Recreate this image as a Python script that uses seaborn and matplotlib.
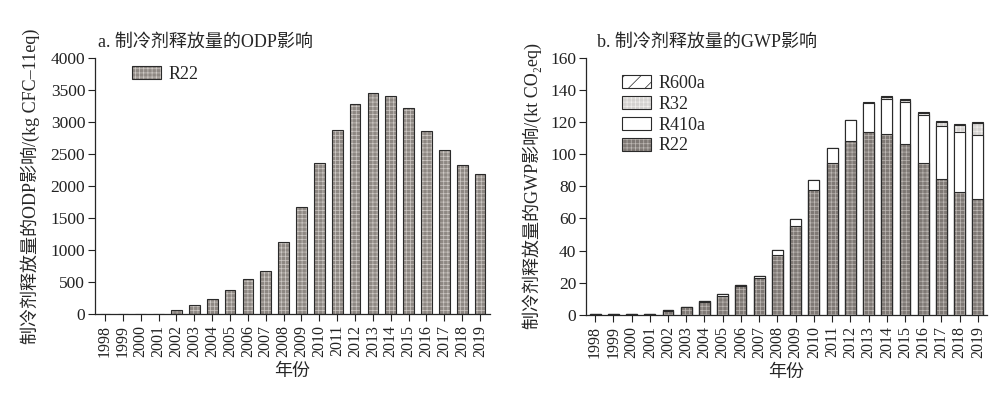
import numpy as np
import pandas as pd
import seaborn as sns
import matplotlib.pyplot as plt

years = [str(y) for y in range(1998, 2020)]

# a. ODP impact, kg CFC-11eq
odp_r22 = [2, 2, 5, 5, 67, 136, 234, 375, 542, 677, 1120, 1677,
           2355, 2870, 3281, 3448, 3406, 3224, 2860, 2558, 2328, 2188]

# b. GWP impact, kt CO2eq
gwp_r22 = [0.2, 0.2, 0.3, 0.3, 2.6, 5.0, 8.2, 11.8, 18.0, 22.9, 37.4, 55.5,
           77.5, 94.6, 108.4, 114.0, 112.5, 106.1, 94.7, 84.8, 76.6, 72.2]
gwp_r410a = [0, 0, 0, 0, 0.1, 0.1, 0.2, 1.2, 0.5, 1.5, 2.7, 3.9,
             6.5, 9.4, 12.9, 17.6, 22.0, 26.3, 29.7, 32.6, 37.4, 39.9]
gwp_r32 = [0] * 15 + [0.3, 1.0, 1.5, 1.5, 2.9, 4.5, 7.3]
gwp_r600a = [0] * 15 + [0.5, 0.5, 0.6, 0.5, 0.5, 0.5, 0.5]

sns.set_style('ticks')
plt.rcParams['font.family'] = ['Liberation Serif', 'Noto Sans CJK SC', 'DejaVu Serif']
plt.rcParams['hatch.linewidth'] = 0.5
plt.rcParams['axes.linewidth'] = 0.9

fs = 13


def style_bars(container, face, hatch, hatch_color, edge='#2a2a2a'):
    for p in container:
        p.set_facecolor(face)
        p.set_edgecolor(edge)
        p.set_linewidth(0.8)
        p.set_hatch(hatch)
        p._hatch_color = plt.matplotlib.colors.to_rgba(hatch_color)


def style_axes(ax):
    sns.despine(ax=ax)
    ax.tick_params(axis='both', direction='out', length=5, width=0.8, colors='#222222')
    ax.tick_params(axis='y', labelsize=12.5, pad=2)
    ax.tick_params(axis='x', labelsize=11.5, labelrotation=90, pad=3)
    ax.set_xlabel('年份', fontsize=fs, labelpad=4)


fig = plt.figure(figsize=(10, 3.99), dpi=100)
ax1 = fig.add_axes([0.095, 0.213, 0.395, 0.642])
ax2 = fig.add_axes([0.586, 0.211, 0.401, 0.644])

# panel a
df_a = pd.DataFrame({'year': years, 'R22': odp_r22})
sns.barplot(data=df_a, x='year', y='R22', ax=ax1, width=0.6, label='R22')
style_bars(ax1.containers[-1], '#8e8883', '++++', '#cfcac6')
ax1.set_ylim(0, 4000)
ax1.set_xlim(-0.56, 21.56)
ax1.set_yticks(np.arange(0, 4001, 500))
ax1.set_ylabel('制冷剂释放量的ODP影响/(kg CFC–11eq)', fontsize=fs, labelpad=8)
style_axes(ax1)
ax1.text(0.008, 1.06, 'a. 制冷剂释放量的ODP影响', transform=ax1.transAxes, fontsize=fs, va='center')
ax1.legend(loc='upper left', bbox_to_anchor=(0.094, 0.97), frameon=False, fontsize=fs,
           borderpad=0, borderaxespad=0, handlelength=1.6, handleheight=0.75, handletextpad=0.4)

# panel b: stacked, drawn from the tallest cumulative total down
c1 = np.array(gwp_r22)
c2 = c1 + np.array(gwp_r410a)
c3 = c2 + np.array(gwp_r32)
c4 = c3 + np.array(gwp_r600a)
df_b = pd.DataFrame({'year': years, 'c1': c1, 'c2': c2, 'c3': c3, 'c4': c4})

layers = [
    ('c4', 'R600a', 'white', '//', '#222222'),
    ('c3', 'R32', '#d4d2d0', '++++', '#f2f0ee'),
    ('c2', 'R410a', 'white', '', '#222222'),
    ('c1', 'R22', '#7f7975', '++++', '#bdb8b4'),
]
for col, name, face, hatch, hc in layers:
    sns.barplot(data=df_b, x='year', y=col, ax=ax2, width=0.6, label=name)
    style_bars(ax2.containers[-1], face, hatch, hc)

ax2.set_ylim(0, 160)
ax2.set_xlim(-0.5, 21.5)
ax2.set_yticks(np.arange(0, 161, 20))
ax2.set_ylabel('制冷剂释放量的GWP影响/(kt CO₂eq)', fontsize=fs, labelpad=6)
style_axes(ax2)
ax2.text(0.027, 1.06, 'b. 制冷剂释放量的GWP影响', transform=ax2.transAxes, fontsize=fs, va='center')
ax2.legend(loc='upper left', bbox_to_anchor=(0.09, 0.935), frameon=False, fontsize=fs,
           borderpad=0, borderaxespad=0, handlelength=1.6, handleheight=0.75, handletextpad=0.4,
           labelspacing=0.22)

fig.savefig('out.png', dpi=100, facecolor='white')
